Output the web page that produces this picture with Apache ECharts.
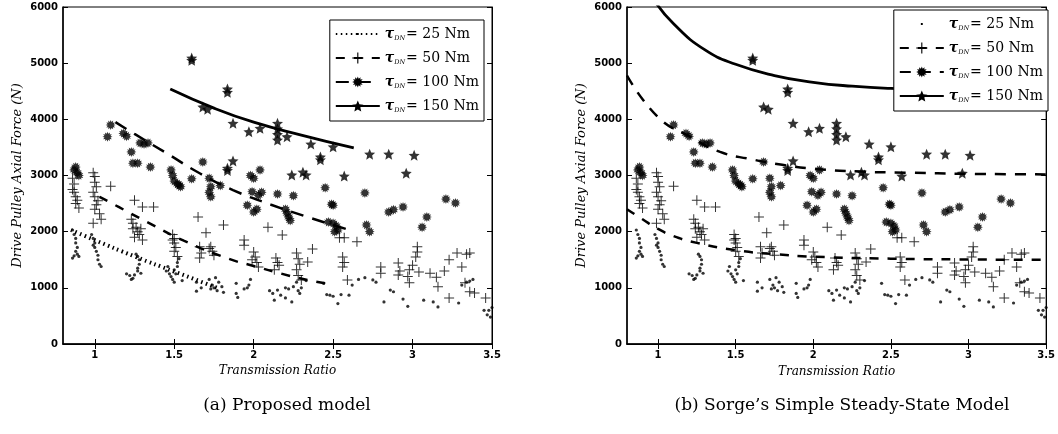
<!DOCTYPE html>
<html>
<head>
<meta charset="utf-8">
<script src="https://cdn.jsdelivr.net/npm/echarts@6/dist/echarts.min.js"></script>
<style>html,body{margin:0;padding:0;background:#fff}#c{width:1058px;height:434px}</style>
</head>
<body>
<div id="c"></div>
<script>
// ---------- tick labels ----------
const xTicks = [1, 1.5, 2, 2.5, 3, 3.5];
const yTicks = [0, 1000, 2000, 3000, 4000, 5000, 6000];

// ---------- experimental data (shared by both panels) ----------
const ratio25 = [0.86,0.87,0.88,0.88,0.89,0.88,0.87,0.86,0.9,0.89,
  0.98,0.99,1.0,1.0,1.01,1.02,1.02,1.03,1.04,0.99,
  1.2,1.22,1.24,1.25,1.27,1.27,1.28,1.28,1.27,1.26,1.29,1.23,
  1.45,1.47,1.48,1.49,1.5,1.51,1.52,1.52,1.53,1.5,1.55,1.46,
  1.64,1.64,1.67,1.72,1.74,1.75,1.77,1.78,1.8,1.81,1.76,1.73,
  1.89,1.89,1.9,1.94,1.97,1.98,1.96,
  2.1,2.12,2.13,2.15,2.17,2.2,2.22,2.24,2.25,2.27,2.28,2.29,2.3,2.2,
  2.33,2.44,2.46,2.48,2.5,2.53,2.55,2.6,2.62,2.66,2.7,2.75,2.77,
  2.82,2.88,2.86,2.94,2.97,3.07,3.13,3.16,3.29,3.31,3.34,3.36,3.38,3.45,3.47,3.49,3.48,3.5];
const force25 = [2030,1950,1880,1800,1720,1650,1570,1530,1560,1600,
  1950,1880,1800,1720,1650,1580,1500,1420,1380,1760,
  1250,1220,1170,1230,1300,1350,1420,1500,1560,1600,1260,1150,
  1300,1250,1200,1150,1320,1250,1380,1450,1520,1100,1130,1380,
  940,1100,1000,1150,1050,1000,950,1100,1020,920,1180,980,
  1080,900,830,980,1050,1150,1000,
  950,900,780,960,870,1000,980,750,1020,1100,950,900,1000,820,
  1130,1080,880,870,850,720,880,870,1050,1150,1180,1140,1100,
  750,930,960,800,670,780,750,660,730,1050,1100,1120,1150,600,520,480,600,650];

const ratio50 = [0.86,0.87,0.87,0.88,0.89,0.88,0.9,0.86,
  0.99,1.0,1.0,1.01,0.99,1.0,1.02,1.01,1.0,1.03,1.04,0.99,
  1.1,1.25,1.3,1.37,
  1.23,1.24,1.26,1.27,1.28,1.29,1.25,1.3,1.24,
  1.49,1.5,1.5,1.51,1.5,1.52,1.49,
  1.65,1.7,1.66,1.67,1.66,1.73,1.74,1.75,1.72,
  1.81,1.94,1.94,2.09,2.18,2.37,
  2.0,2.01,2.02,2.03,1.99,
  2.14,2.15,2.13,2.16,
  2.27,2.28,2.29,2.27,2.28,2.3,2.34,
  2.56,2.57,2.56,2.54,2.57,2.59,2.65,
  2.8,2.8,2.91,2.92,2.91,2.98,2.97,2.98,3.0,3.04,3.11,3.16,3.15,3.03,3.03,3.02,
  3.23,3.28,3.34,3.36,3.23,3.31,3.33,3.36,3.39,3.46,3.2];
const force50 = [2950,2850,2700,2620,2560,2500,2420,2750,
  3050,2980,2880,2800,2700,2620,2550,2480,2400,2320,2220,2150,
  2810,2560,2440,2440,
  2220,2150,2080,2000,1950,2050,1900,1850,2050,
  1950,1880,1800,1720,1650,1560,1850,
  2260,1980,1730,1620,1530,1730,1650,1580,1700,
  2120,1850,1760,2080,1940,1690,
  1640,1550,1450,1370,1500,
  1530,1450,1320,1400,
  1620,1520,1420,1320,1220,1140,1460,
  1550,1450,1370,1890,1890,1140,1820,
  1370,1260,1440,1300,1230,1320,1200,1090,1400,1280,1260,1020,1190,1730,1640,1550,
  1500,1620,1600,1620,820,1370,1090,930,910,820,1300];

const ratio100 = [0.88,0.89,0.9,0.87,
  1.1,1.08,1.18,1.2,1.285,1.335,1.31,1.23,1.24,1.27,1.35,
  1.48,1.49,1.5,1.52,1.54,1.53,
  1.68,1.61,1.72,1.73,1.72,1.73,1.79,
  1.99,2.05,2.03,1.96,2.02,2.0,2.15,2.25,2.04,2.0,1.98,
  2.2,2.21,2.22,2.23,2.45,2.49,2.5,2.47,2.5,2.52,2.53,2.51,
  2.7,2.71,2.73,2.85,2.88,2.94,3.09,3.06,3.21,3.27];
const force100 = [3150,3050,3000,3100,
  3900,3690,3750,3700,3580,3580,3560,3420,3220,3220,3150,
  3100,3000,2900,2850,2800,2830,
  3240,2940,2950,2800,2700,2620,2820,
  2710,2700,2650,2470,2400,2350,2670,2640,3100,2950,3000,
  2400,2330,2260,2200,2780,2490,2470,2170,2150,2100,2030,2000,
  2690,2120,2000,2350,2390,2440,2260,2080,2580,2510];

const ratio150 = [1.61,1.61,1.835,1.835,1.68,1.71,1.87,1.97,2.04,2.15,2.15,2.15,2.15,2.21,2.36,2.42,2.42,2.5,
  2.57,2.73,2.85,3.01,2.96,2.24,2.31,2.33,1.835,1.87,1.835];
const force150 = [5090,5050,4540,4480,4220,4180,3930,3780,3840,3930,3830,3730,3630,3690,3560,3330,3280,3510,
  2990,3380,3380,3360,3040,3010,3060,3010,3130,3260,3090];

// ---------- model curves, panel (a) ----------
const modelA25Ratio = [0.85, 1.0, 1.25, 1.5, 1.78];
const modelA25Force = [2030, 1850, 1560, 1290, 990];
const modelA50Ratio = [1.03, 1.15, 1.33, 1.56, 1.85, 2.0, 2.15, 2.34, 2.5];
const modelA50Force = [2620, 2440, 2170, 1840, 1510, 1390, 1270, 1140, 1060];
const modelA100Ratio = [1.13, 1.25, 1.45, 1.66, 1.87, 2.11, 2.34, 2.58];
const modelA100Force = [3950, 3740, 3400, 3040, 2740, 2480, 2260, 2050];
const modelA150Ratio = [1.475, 1.75, 2.0, 2.3, 2.63];
const modelA150Force = [4540, 4200, 3950, 3720, 3490];

// ---------- model curves, panel (b) ----------
const modelB50Ratio = [0.8, 0.9, 1.0, 1.1, 1.25, 1.5, 1.75, 2.0, 2.5, 3.0, 3.5];
const modelB50Force = [2400, 2220, 2050, 1920, 1800, 1670, 1600, 1555, 1520, 1505, 1500];
const modelB100Ratio = [0.8, 1.0, 1.2, 1.4, 1.6, 1.8, 2.0, 2.3, 2.6, 3.0, 3.5];
const modelB100Force = [4780, 4040, 3700, 3420, 3290, 3190, 3120, 3070, 3050, 3030, 3020];
const modelB150Ratio = [0.98, 1.1, 1.3, 1.5, 1.75, 2.0, 2.25, 2.5, 3.0, 3.5];
const modelB150Force = [6100, 5700, 5240, 4980, 4780, 4660, 4590, 4550, 4510, 4490];

const legendTorque = ['25', '50', '100', '150'];

// ---------- helpers ----------
const zip = (xs, ys) => xs.map((x, i) => [x, ys[i]]);
function starPath(n, rOut, rIn) {
  let d = '';
  for (let i = 0; i < 2 * n; i++) {
    const r = i % 2 ? rIn : rOut;
    const a = -Math.PI / 2 + i * Math.PI / n;
    d += (i ? 'L' : 'M') + (10 + 10 * r * Math.cos(a)).toFixed(2) + ',' + (10 + 10 * r * Math.sin(a)).toFixed(2);
  }
  return 'path://' + d + 'Z';
}
const STAR = starPath(5, 1, 0.45);
const BURST = starPath(12, 1, 0.62);
const PLUS = 'path://M9,0H11V9H20V11H11V20H9V11H0V9H9Z';
const TINYDOT = 'path://M0,0L0.05,0L0,0.05ZM20,20L19.95,20L20,19.95ZM8.3,8.3H11.7V11.7H8.3Z';

const SERIF = 'DejaVu Serif';
const SANS = 'DejaVu Sans';

function scatter(name, xi, data, symbol, size) {
  return { name, type: 'scatter', xAxisIndex: xi, yAxisIndex: xi, data, symbol, symbolSize: size,
    itemStyle: { color: '#000' }, silent: true, z: 2 };
}
function model(name, xi, data, symbol, ls) {
  return { name, type: 'line', xAxisIndex: xi, yAxisIndex: xi, data, symbol, showSymbol: false, smooth: true,
    lineStyle: Object.assign({ color: '#000' }, ls), itemStyle: { color: '#000' }, silent: true, z: 3, clip: true };
}

function panelSeries(p, xi) {
  return [
    scatter(p + 'e25', xi, zip(ratio25, force25), 'circle', 3.2),
    scatter(p + 'e50', xi, zip(ratio50, force50), PLUS, 10),
    scatter(p + 'e100', xi, zip(ratio100, force100), BURST, 10),
    scatter(p + 'e150', xi, zip(ratio150, force150), STAR, 11)
  ];
}

const series = [].concat(
  panelSeries('a', 0), panelSeries('b', 2),
  [
    model('a25', 0, zip(modelA25Ratio, modelA25Force), TINYDOT, { width: 4, type: [1.5, 3.5], cap: 'butt' }),
    model('a50', 0, zip(modelA50Ratio, modelA50Force), PLUS, { width: 2.5, type: [9, 9] }),
    model('a100', 0, zip(modelA100Ratio, modelA100Force), BURST, { width: 2.5, type: [13, 9] }),
    model('a150', 0, zip(modelA150Ratio, modelA150Force), STAR, { width: 2.8, type: 'solid' }),
    model('b25', 2, [], TINYDOT, { width: 0, opacity: 0 }),
    model('b50', 2, zip(modelB50Ratio, modelB50Force), PLUS, { width: 2.5, type: [9, 9] }),
    model('b100', 2, zip(modelB100Ratio, modelB100Force), BURST, { width: 2.5, type: [11, 9] }),
    model('b150', 2, zip(modelB150Ratio, modelB150Force), STAR, { width: 2.8, type: 'solid' })
  ]
);

const plain = v => String(v);

function xAxes(gi) {
  return [
    { gridIndex: gi, type: 'value', min: 0.8, max: 3.5, position: 'bottom',
      name: 'Transmission Ratio', nameLocation: 'middle', nameGap: gi ? 22 : 17,
      nameTextStyle: { fontFamily: SERIF, fontStyle: 'italic', fontSize: 12, color: '#000' },
      axisLine: { show: true, lineStyle: { color: '#000', width: 1.5 } },
      axisTick: { show: true, inside: true, length: 5, customValues: xTicks, lineStyle: { color: '#000' } },
      axisLabel: { customValues: xTicks, formatter: plain, margin: 6, fontFamily: SANS, fontWeight: 'bold', fontSize: 10, color: '#000' },
      splitLine: { show: false } },
    { gridIndex: gi, type: 'value', min: 0.8, max: 3.5, position: 'top',
      axisLine: { show: true, lineStyle: { color: '#000', width: 1 } },
      axisTick: { show: true, inside: true, length: 5, customValues: xTicks, lineStyle: { color: '#000' } },
      axisLabel: { show: false }, splitLine: { show: false } }
  ];
}
function yAxes(gi) {
  return [
    { gridIndex: gi, type: 'value', min: 0, max: 6000, interval: 1000, position: 'left',
      name: 'Drive Pulley Axial Force (N)', nameLocation: 'middle', nameGap: 39,
      nameTextStyle: { fontFamily: SERIF, fontStyle: 'italic', fontSize: 13, color: '#000' },
      axisLine: { show: true, lineStyle: { color: '#000', width: 1.5 } },
      axisTick: { show: true, inside: true, length: 5, customValues: yTicks, lineStyle: { color: '#000' } },
      axisLabel: { customValues: yTicks, formatter: plain, margin: 5, fontFamily: SANS, fontWeight: 'bold', fontSize: 10, color: '#000' },
      splitLine: { show: false } },
    { gridIndex: gi, type: 'value', min: 0, max: 6000, interval: 1000, position: 'right',
      axisLine: { show: true, lineStyle: { color: '#000', width: 1 } },
      axisTick: { show: true, inside: true, length: 5, lineStyle: { color: '#000' } },
      axisLabel: { show: false }, splitLine: { show: false } }
  ];
}

const richText = {
  t: { fontFamily: SERIF, fontStyle: 'italic', fontWeight: 'bold', fontSize: 14, color: '#000', lineHeight: 16 },
  s: { fontFamily: SERIF, fontStyle: 'italic', fontSize: 6.5, color: '#000', verticalAlign: 'bottom', lineHeight: 16, padding: [0, 1, 0, 0] },
  n: { fontFamily: SERIF, fontSize: 14, color: '#000', lineHeight: 16 }
};
function legend(p, pos) {
  return Object.assign({
    data: legendTorque.map(t => p + t),
    orient: 'vertical', itemWidth: 44, itemHeight: 14, itemGap: 9,
    padding: [7, 5, 7, 5], borderColor: '#000', borderWidth: 1, backgroundColor: '#fff',
    selectedMode: false, inactiveColor: '#000',
    formatter: name => '{t|τ}{s|DN}{n|= ' + name.slice(1) + ' Nm}',
    textStyle: { rich: richText }
  }, pos);
}

const option = {
  backgroundColor: '#fff',
  animation: false,
  grid: [
    { left: 63, top: 7, width: 429, height: 337, show: true, borderColor: '#000', borderWidth: 1 },
    { left: 627, top: 7, width: 424, height: 337, show: true, borderColor: '#000', borderWidth: 1 }
  ],
  xAxis: [].concat(xAxes(0), xAxes(1)),
  yAxis: [].concat(yAxes(0), yAxes(1)),
  legend: [legend('a', { right: 1058 - 484, top: 20 }), legend('b', { right: 10, top: 10 })],
  graphic: [
    { type: 'text', x: 287, y: 406, style: { text: '(a) Proposed model', fontFamily: SERIF, fontSize: 17, fill: '#000', textAlign: 'center', textVerticalAlign: 'middle' } },
    { type: 'text', x: 842, y: 406, style: { text: '(b) Sorge\u2019s Simple Steady-State Model', fontFamily: SERIF, fontSize: 17, fill: '#000', textAlign: 'center', textVerticalAlign: 'middle' } }
  ],
  series
};
const chart = echarts.init(document.getElementById('c'), null, { renderer: 'canvas' });
chart.setOption(option);
</script>
</body>
</html>
